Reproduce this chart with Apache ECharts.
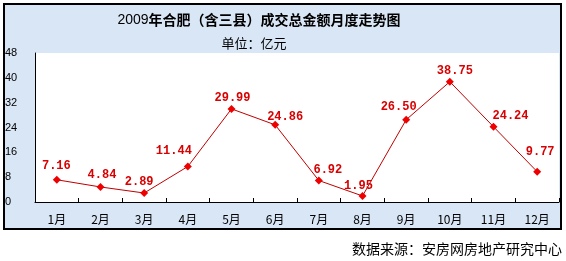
<!DOCTYPE html>
<html>
<head>
<meta charset="utf-8">
<script src="https://cdn.jsdelivr.net/npm/echarts@6/dist/echarts.min.js"></script>
<style>
html,body{margin:0;padding:0;background:#fff;}
#main{width:566px;height:261px;}
</style>
</head>
<body>
<div id="main"></div>
<script>
var months = ['1月','2月','3月','4月','5月','6月','7月','8月','9月','10月','11月','12月'];
var amounts = [7.16, 4.84, 2.89, 11.44, 29.99, 24.86, 6.92, 1.95, 26.50, 38.75, 24.24, 9.77];
var yTicks = {min: 0, max: 48, interval: 8};
var titleYear = '2009';
var titleRest = '年合肥（含三县）成交总金额月度走势图';
var unitText = '单位：亿元';
var sourceText = '数据来源：安房网房地产研究中心';

// label nudges (style only)
var labelNudge = [[-0.5,-13.5],[1.5,-12],[-5,-11],[-14,-16],[1,-11],[10,-8],[9,-11],[-4,-10],[-7.5,-13],[5,-11],[17,-11],[3,-19.5]];

var chart = echarts.init(document.getElementById('main'), null, {renderer:'canvas'});
var cjk = '"Noto Sans CJK SC", sans-serif';
var seriesData = amounts.map(function(v, i){
  return {value: v, label: {offset: labelNudge[i]}};
});
chart.setOption({
  animation: false,
  backgroundColor: '#ffffff',
  graphic: [
    {type:'rect', z:-10, shape:{x:4, y:4, width:557, height:225},
     style:{fill:'#d9e6f6', stroke:'#000', lineWidth:2}},
    {type:'text', z:10, x:259, y:20, style:{
      text:'{a|' + titleYear + '}{b|' + titleRest + '}',
      textAlign:'center', textVerticalAlign:'middle',
      rich:{a:{fontFamily:'"Liberation Sans", sans-serif', fontSize:14, fontWeight:'normal', fill:'#000'},
            b:{fontFamily:cjk, fontSize:14, fontWeight:'bold', fill:'#000'}}
    }},
    {type:'text', z:10, x:254, y:43, style:{text:unitText, textAlign:'center', textVerticalAlign:'middle',
      font:'13px ' + cjk, fill:'#000'}},
    {type:'text', z:10, x:562, y:249, style:{text:sourceText, textAlign:'right', textVerticalAlign:'middle',
      font:'14px ' + cjk, fill:'#000'}}
  ],
  grid: {left:35, right:7, top:53, bottom:59, show:true, backgroundColor:'#ffffff', borderWidth:0},
  xAxis: {
    type:'category', data: months, boundaryGap:true,
    axisLine:{show:true, lineStyle:{color:'#000', width:1}},
    axisTick:{show:true, inside:true, length:4, alignWithLabel:false, lineStyle:{color:'#000'}},
    axisLabel:{margin:11, fontSize:12, color:'#000', fontFamily:cjk}
  },
  yAxis: {
    type:'value', min:yTicks.min, max:yTicks.max, interval:yTicks.interval,
    axisLine:{show:true, lineStyle:{color:'#000', width:1}},
    axisTick:{show:false},
    splitLine:{show:false},
    axisLabel:{align:'left', margin:30, fontSize:11, color:'#000', fontFamily:'"Liberation Sans", sans-serif', padding:[4,0,0,0]}
  },
  series: [{
    type:'line', data: seriesData,
    symbol:'diamond', symbolSize:8,
    lineStyle:{color:'#c00000', width:1},
    itemStyle:{color:'#ee0000'},
    label:{show:true, position:'inside', color:'#d80000',
      fontFamily:'"Liberation Mono", monospace', fontWeight:'bold', fontSize:12,
      formatter:function(p){ return p.value.toFixed(2); }}
  }]
});
</script>
</body>
</html>
